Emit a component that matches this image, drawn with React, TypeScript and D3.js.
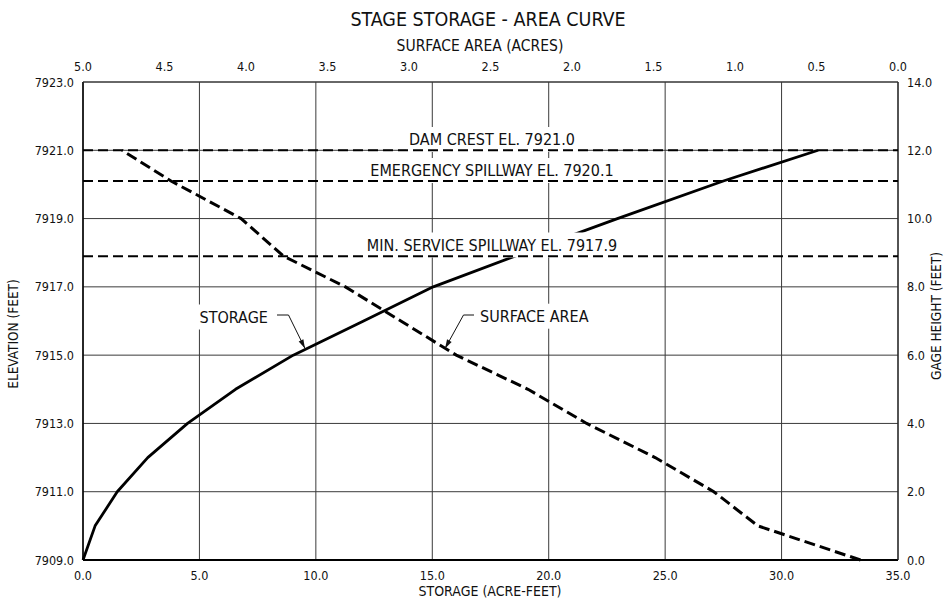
import React, { useEffect, useRef } from "react";
import * as d3 from "d3";

// ---- data ----
const elevations = [7909, 7910, 7911, 7912, 7913, 7914, 7915, 7916, 7917, 7917.9, 7919, 7920.1, 7921];
const storage = [0, 0.52, 1.47, 2.78, 4.49, 6.55, 9.03, 12.05, 15.04, 18.55, 22.95, 27.5, 31.57];
const surfaceArea = [0.23, 0.86, 1.13, 1.49, 1.91, 2.27, 2.71, 3.05, 3.39, 3.77, 4.03, 4.46, 4.76];

const refElevations = [7921.0, 7920.1, 7917.9];
const refLabels = ["DAM CREST EL. 7921.0", "EMERGENCY SPILLWAY EL. 7920.1", "MIN. SERVICE SPILLWAY EL. 7917.9"];

const storageTicks = [0, 5, 10, 15, 20, 25, 30, 35];
const areaTicks = [5, 4.5, 4, 3.5, 3, 2.5, 2, 1.5, 1, 0.5, 0];
const elevTicks = [7909, 7911, 7913, 7915, 7917, 7919, 7921, 7923];
const gageTicks = [0, 2, 4, 6, 8, 10, 12, 14];

const title = "STAGE STORAGE - AREA CURVE";
const topTitle = "SURFACE AREA (ACRES)";
const bottomTitle = "STORAGE (ACRE-FEET)";
const leftTitle = "ELEVATION (FEET)";
const rightTitle = "GAGE HEIGHT (FEET)";

const W = 944, H = 604;
const L = 83, R = 898, T = 82, B = 560;
const FONT = "'DejaVu Sans Condensed', 'DejaVu Sans', sans-serif";

export default function App() {
  const ref = useRef<SVGSVGElement>(null);
  useEffect(() => {
    const svg = d3.select(ref.current);
    svg.selectAll("*").remove();
    const x = d3.scaleLinear().domain([0, 35]).range([L, R]);
    const xa = d3.scaleLinear().domain([5, 0]).range([L, R]);
    const y = d3.scaleLinear().domain([7909, 7923]).range([B, T]);
    const yg = d3.scaleLinear().domain([0, 14]).range([B, T]);

    svg.append("rect").attr("width", W).attr("height", H).attr("fill", "#fff");

    const g = svg.append("g").style("font-family", FONT).style("font-stretch", "condensed");

    // grid
    g.selectAll(".vg").data(storageTicks).enter().append("line")
      .attr("x1", (d) => x(d)).attr("x2", (d) => x(d)).attr("y1", T).attr("y2", B)
      .attr("stroke", "#3a3a3a").attr("stroke-width", 1);
    g.selectAll(".hg").data(elevTicks).enter().append("line")
      .attr("x1", L).attr("x2", R).attr("y1", (d) => y(d)).attr("y2", (d) => y(d))
      .attr("stroke", "#3a3a3a").attr("stroke-width", 1);

    // curves
    const pts = elevations.map((e, i) => ({ e, s: storage[i], a: surfaceArea[i] }));
    g.append("path")
      .attr("d", d3.line<any>().x((d) => x(d.s)).y((d) => y(d.e))(pts))
      .attr("fill", "none").attr("stroke", "#000").attr("stroke-width", 2.8).attr("stroke-linejoin", "round");
    g.append("path")
      .attr("d", d3.line<any>().x((d) => xa(d.a)).y((d) => y(d.e))(pts))
      .attr("fill", "none").attr("stroke", "#000").attr("stroke-width", 3).attr("stroke-dasharray", "11,5");

    // axes lines
    g.append("line").attr("x1", L).attr("x2", L).attr("y1", T).attr("y2", B).attr("stroke", "#000").attr("stroke-width", 1.5);
    g.append("line").attr("x1", L).attr("x2", R).attr("y1", B).attr("y2", B).attr("stroke", "#000").attr("stroke-width", 2);
    g.append("line").attr("x1", R).attr("x2", R).attr("y1", T).attr("y2", B).attr("stroke", "#222").attr("stroke-width", 1.2);
    g.append("line").attr("x1", L).attr("x2", R).attr("y1", T).attr("y2", T).attr("stroke", "#333").attr("stroke-width", 1);

    // labeled text with white background
    const boxed = (txt: string, tx: number, ty: number, anchor: string, size: number, pad = 2) => {
      const grp = g.append("g");
      const rect = grp.append("rect").attr("fill", "#fff");
      const t = grp.append("text").attr("x", tx).attr("y", ty).attr("text-anchor", anchor)
        .style("font-size", size + "px").attr("fill", "#111").text(txt);
      const bb = (t.node() as SVGTextElement).getBBox();
      rect.attr("x", bb.x - pad).attr("y", bb.y - pad).attr("width", bb.width + 2 * pad).attr("height", bb.height + 2 * pad);
    };

    // reference lines labels
    const labelBase = [145, 176, 250.5];
    refLabels.forEach((lab, i) => boxed(lab, 492, labelBase[i], "middle", 16, 3));

    // reference dashed lines
    g.selectAll(".ref").data(refElevations).enter().append("line")
      .attr("x1", L).attr("x2", R).attr("y1", (d) => y(d)).attr("y2", (d) => y(d))
      .attr("stroke", "#000").attr("stroke-width", 2).attr("stroke-dasharray", "10,5");

    // annotations
    boxed("STORAGE", 199.5, 322.5, "start", 16, 3);
    boxed("SURFACE AREA", 480, 321.7, "start", 16, 3);

    const arrow = (pathPts: [number, number][]) => {
      g.append("path").attr("d", d3.line()(pathPts)).attr("fill", "none").attr("stroke", "#111").attr("stroke-width", 1);
      const [x1, y1] = pathPts[pathPts.length - 2];
      const [x2, y2] = pathPts[pathPts.length - 1];
      const ang = Math.atan2(y2 - y1, x2 - x1);
      const len = 9, wd = 2.6;
      const bx = x2 - len * Math.cos(ang), by = y2 - len * Math.sin(ang);
      const px = -Math.sin(ang) * wd, py = Math.cos(ang) * wd;
      g.append("path").attr("d", `M${x2},${y2}L${bx + px},${by + py}L${bx - px},${by - py}Z`).attr("fill", "#111");
    };
    arrow([[277, 315], [288.5, 315], [305, 348.5]]);
    arrow([[474, 315], [463.5, 315], [445, 348.5]]);

    // tick labels
    const tick = (txt: string, tx: number, ty: number, anchor: string) =>
      g.append("text").attr("x", tx).attr("y", ty).attr("text-anchor", anchor).attr("dominant-baseline", "central")
        .style("font-size", "12.5px").attr("fill", "#111").text(txt);
    elevTicks.forEach((d) => tick(d.toFixed(1), 74, y(d), "end"));
    gageTicks.forEach((d) => tick(d.toFixed(1), 907, yg(d), "start"));
    storageTicks.forEach((d) => tick(d.toFixed(1), x(d), 575, "middle"));
    areaTicks.forEach((d) => tick(d.toFixed(1), xa(d), 66, "middle"));

    // titles
    const ttl = (txt: string, tx: number, ty: number, size: number, rot = 0) =>
      g.append("text").attr("transform", `translate(${tx},${ty}) rotate(${rot})`).attr("text-anchor", "middle")
        .attr("dominant-baseline", "central").style("font-size", size + "px").attr("fill", "#111").text(txt);
    ttl(title, 488, 19, 19.5);
    ttl(topTitle, 480, 46, 15.5);
    ttl(bottomTitle, 490, 591, 14);
    ttl(leftTitle, 13, 334, 13.5, -90);
    ttl(rightTitle, 936, 316, 13.5, -90);
  }, []);
  return (
    <svg ref={ref} width={W} height={H} style={{ position: "absolute", left: 0, top: 0 }} />
  );
}
